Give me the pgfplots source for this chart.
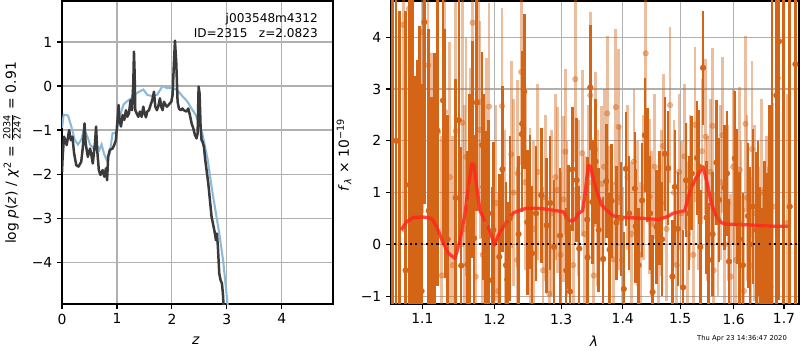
\documentclass[border=0pt]{standalone}
\usepackage{pgfplots}
\pgfplotsset{compat=1.18}
\usepackage{fontspec}
\setmainfont{DejaVu Sans}
\definecolor{gridc}{RGB}{176,176,176}
\definecolor{pzblue}{RGB}{140,185,216}
\definecolor{pzblack}{RGB}{58,58,58}
\definecolor{fdark}{RGB}{212,100,22}
\definecolor{fred}{RGB}{255,40,30}
\begin{document}
\begin{tikzpicture}[x=0.72pt,y=0.72pt]
\useasboundingbox (0,0) rectangle (800,350);
\pgfplotsset{
  common/.style={
    scale only axis, anchor=south west,
    axis line style={black, line width=0.8pt},
    grid=major, grid style={gridc, line width=0.8pt},
    tick align=outside, major tick length=3.5pt,
    tick style={black, line width=0.8pt},
    xtick pos=bottom, ytick pos=left,
    tick label style={font=\fontsize{10}{12}\selectfont},
    minor x tick num=0,
  }
}
% ---------------- left panel: p(z)
\begin{axis}[common,
  at={(44.64pt,33.12pt)}, width=195.12pt, height=218.16pt,
  xmin=0, xmax=4.93, ymin=-4.95, ymax=1.93,
  xtick={0,1,2,3,4}, xticklabels={0,1,2,3,4},
  ytick={-4,-3,-2,-1,0,1}, yticklabels={−4,−3,−2,−1,0,1},
]
\addplot[pzblue, line width=1.5pt] coordinates {
(0.0,-0.95) (0.031,-0.65) (0.11,-0.67) (0.17,-0.92) (0.23,-1.22) (0.29,-1.33) (0.35,-1.22) (0.40,-0.99) (0.46,-1.14) (0.51,-1.33) (0.57,-1.41) (0.63,-1.33) (0.68,-1.45) (0.72,-1.33) (0.77,-1.56) (0.81,-1.67) (0.87,-1.52) (0.92,-1.07) (0.97,-1.07) (1.0,-0.99) (1.06,-0.65) (1.12,-0.42) (1.18,-0.35) (1.27,-0.27) (1.30,-0.23) (1.36,-0.16) (1.42,-0.12) (1.48,-0.08) (1.55,-0.20) (1.64,-0.23) (1.73,-0.20) (1.83,0.0) (1.91,-0.05) (2.0,-0.05) (2.09,-0.08) (2.19,-0.23) (2.28,-0.35) (2.35,-0.5) (2.43,-0.65) (2.49,-0.84) (2.55,-1.07) (2.60,-1.37) (2.65,-1.67) (2.72,-2.28) (2.80,-2.89) (2.86,-3.34) (2.93,-3.95) (2.98,-4.55) (3.01,-4.93) (3.05,-5.3)
};
\addplot[pzblack, line width=1.8pt, line join=round] coordinates {
(0.0,-1.95) (0.012,-1.6) (0.037,-1.15) (0.086,-1.34) (0.13,-1.0) (0.16,-1.23) (0.19,-1.15) (0.22,-1.53) (0.26,-1.80) (0.30,-1.83) (0.35,-1.72) (0.38,-1.38) (0.41,-0.85) (0.43,-1.30) (0.47,-1.61) (0.51,-1.42) (0.53,-1.53) (0.56,-1.76) (0.60,-1.30) (0.62,-0.92) (0.64,-1.45) (0.67,-1.91) (0.70,-2.02) (0.74,-1.91) (0.77,-2.06) (0.80,-1.87) (0.82,-2.14) (0.84,-1.61) (0.87,-1.45) (0.92,-1.42) (0.95,-1.34) (0.98,-1.23) (1.01,-0.77) (1.03,-0.43)
(1.043,-0.77) (1.073,-0.92) (1.103,-0.66) (1.133,-0.77) (1.164,-0.55) (1.188,-0.70) (1.218,-0.62) (1.248,-0.32) (1.273,-0.55) (1.297,0.06) (1.309,0.78) (1.321,0.3) (1.333,-0.55) (1.358,-0.62) (1.388,-0.70) (1.418,-0.58) (1.448,-0.70) (1.479,-0.47) (1.503,-0.62) (1.527,-0.71) (1.552,-0.58) (1.582,-0.55) (1.612,-0.43) (1.642,-0.32) (1.673,-0.13) (1.697,-0.47) (1.727,-0.55) (1.758,-0.43) (1.782,-0.28) (1.806,-0.47) (1.830,-0.55) (1.855,-0.36) (1.885,-0.43) (1.909,-0.47) (1.939,-0.43) (1.964,-0.39) (1.988,-0.36) (2.012,-0.20) (2.036,0.515) (2.055,1.03) (2.079,0.515) (2.103,-0.36) (2.127,-0.51) (2.158,-0.55) (2.194,-0.51)
(2.206,-0.545) (2.267,-0.58) (2.297,-0.51) (2.327,-0.66) (2.358,-0.85) (2.388,-0.96) (2.418,-1.11) (2.448,-1.19) (2.467,-1.08) (2.485,-0.015) (2.503,-0.17) (2.521,-0.92) (2.539,-1.23) (2.558,-1.27) (2.582,-1.38) (2.606,-1.68) (2.630,-1.91) (2.661,-2.21) (2.691,-2.59) (2.721,-2.97) (2.752,-3.16) (2.782,-3.35) (2.8,-3.5) (2.818,-3.35) (2.836,-3.65) (2.861,-4.26) (2.885,-4.41) (2.909,-4.48) (2.927,-4.71) (2.939,-4.98) (2.95,-5.2)
};
\end{axis}
% ---------------- right panel: spectrum
\begin{axis}[common,
  at={(281.52pt,33.12pt)}, width=293.76pt, height=218.16pt,
  xmode=log, xmin=1.0593, xmax=1.731, ymin=-1.15, ymax=4.70,
  xtick={1.1,1.2,1.3,1.4,1.5,1.6,1.7}, xticklabels={1.1,1.2,1.3,1.4,1.5,1.6,1.7},
  minor xtick={},
  ytick={-1,0,1,2,3,4}, yticklabels={−1,0,1,2,3,4},
]
% light series
\addplot[only marks, mark=*, mark size=2.0pt, fdark, opacity=0.42,
  error bars/.cd, y dir=both, y explicit, error mark=none,
  error bar style={line width=2.0pt}]
table[x=l, y=f, y error=e] {
l f e
1.0751 4.24 4.0
1.0825 4.55 4.0
1.1000 4.10 3.5
1.1076 3.46 3.0
1.112 0.9 2.8
1.1210 2.17 2.8
1.126 -0.6 2.7
1.1305 2.56 2.6
1.137 1.3 2.6
1.141 -0.4 2.5
1.1451 2.19 2.5
1.1542 2.35 2.4
1.1594 1.69 2.3
1.157 0.3 2.4
1.165 1.1 2.3
1.1686 4.28 2.3
1.1730 -0.62 2.2
1.1777 2.75 2.1
1.1789 2.21 2.1
1.183 -0.2 2.1
1.188 1.6 2.0
1.1919 2.66 2.0
1.202 0.8 1.9
1.205 -0.9 1.9
1.2107 2.67 1.9
1.215 0.4 1.8
1.2243 1.74 1.8
1.228 1.0 1.8
1.233 -0.3 1.8
1.2337 1.37 1.8
1.2390 3.33 1.8
1.245 1.2 1.7
1.2522 0.55 1.7
1.258 0.3 1.7
1.264 1.4 1.7
1.272 -0.5 1.6
1.276 0.9 1.6
1.2815 -0.95 1.6
1.285 0.6 1.6
1.291 1.3 1.6
1.2945 1.05 1.6
1.299 -0.2 1.6
1.3034 0.87 1.6
1.3066 1.79 1.6
1.309 0.5 1.5
1.319 -0.4 1.5
1.3223 3.19 1.6
1.327 0.9 1.5
1.3334 1.76 1.6
1.337 0.2 1.5
1.344 1.2 1.5
1.3464 2.88 1.6
1.352 -0.6 1.5
1.3545 1.83 1.5
1.358 0.7 1.5
1.3649 1.17 1.5
1.369 1.5 1.5
1.3741 2.53 1.5
1.377 0.4 1.5
1.3847 -0.29 1.5
1.3885 2.65 1.5
1.3930 2.27 1.5
1.395 0.9 1.4
1.399 -0.3 1.4
1.408 1.3 1.4
1.415 0.2 1.4
1.419 1.6 1.4
1.425 0.6 1.4
1.430 -0.2 1.4
1.436 1.1 1.4
1.4392 3.69 1.5
1.4464 0.92 1.5
1.449 0.4 1.4
1.455 1.5 1.4
1.461 -0.1 1.4
1.467 0.8 1.4
1.470 1.9 1.4
1.476 0.3 1.4
1.4820 2.69 1.5
1.489 1.0 1.4
1.494 -0.4 1.4
1.4982 1.40 1.5
1.502 0.6 1.4
1.508 1.7 1.4
1.514 0.2 1.4
1.518 1.1 1.4
1.524 -0.2 1.4
1.5273 2.31 1.5
1.534 0.9 1.4
1.540 1.8 1.4
1.5471 2.08 1.5
1.551 0.7 1.4
1.556 1.4 1.4
1.5597 2.29 1.5
1.562 -0.5 1.5
1.570 0.5 1.5
1.575 1.2 1.5
1.5785 2.11 1.5
1.583 0.0 1.5
1.589 0.8 1.5
1.5943 -0.62 1.6
1.599 1.5 1.5
1.604 -0.3 1.6
1.6116 1.44 1.6
1.614 0.4 1.6
1.620 -0.9 1.6
1.6228 2.33 1.7
1.626 0.9 1.6
1.633 -0.4 1.7
1.6357 1.84 1.7
1.641 0.6 1.7
1.648 -0.2 1.7
1.654 1.0 1.8
1.658 -0.7 1.8
1.664 0.3 1.8
1.669 -0.4 1.9
1.6776 0.73 2.0
1.6876 3.21 2.5
1.7060 0.41 2.5
};
% dark series
\addplot[only marks, mark=*, mark size=2.0pt, fdark,
  error bars/.cd, y dir=both, y explicit, error mark=none,
  error bar style={line width=1.8pt}]
table[x=l, y=f, y error=e] {
l f e
1.0610 -2.0 8.0
1.0660 2.0 6.0
1.0700 -1.5 6.0
1.0780 -0.5 5.0
1.0829 1.15 4.5
1.0870 0.8 4.5
1.0904 -0.74 4.0
1.0934 -0.93 4.5
1.0961 0.22 4.0
1.0990 -0.9 4.0
1.1027 4.29 3.5
1.1085 0.65 3.5
1.1125 -0.16 3.0
1.1160 0.7 3.0
1.1200 2.2 3.0
1.1277 2.78 2.8
1.1305 1.76 2.4
1.1340 0.1 2.4
1.1450 0.9 2.3
1.1493 2.40 2.4
1.1527 -0.41 2.3
1.1612 -0.39 2.2
1.1640 0.8 2.1
1.1682 1.83 2.1
1.1706 0.12 2.0
1.1744 2.74 2.1
1.1819 1.92 1.8
1.1838 1.11 1.8
1.1866 0.39 1.8
1.1910 0.6 1.8
1.1962 -0.69 1.8
1.1981 0.28 1.7
1.2068 -0.24 1.6
1.2112 1.45 1.6
1.2165 -0.40 1.6
1.2184 -0.68 1.5
1.2220 0.5 1.6
1.2350 0.2 1.5
1.2399 2.13 1.5
1.2404 2.33 1.4
1.2436 2.95 1.5
1.2481 0.43 1.4
1.2522 0.82 1.3
1.2552 -0.17 1.3
1.2612 0.60 1.3
1.2693 0.95 1.3
1.2776 0.37 1.3
1.2830 0.8 1.3
1.2888 -0.05 1.3
1.2982 0.17 1.3
1.3080 -0.5 1.2
1.3119 0.34 1.2
1.3139 -0.91 1.2
1.3176 1.45 1.2
1.3245 1.24 1.2
1.3286 -0.08 1.2
1.3415 0.48 1.2
1.3420 -0.25 1.2
1.3464 3.03 1.2
1.3496 0.82 1.2
1.3550 1.6 1.2
1.3600 0.28 1.2
1.3675 -0.28 1.2
1.3725 1.22 1.1
1.3780 -0.1 1.1
1.3814 0.84 1.1
1.3894 0.42 1.1
1.3970 0.5 1.1
1.4019 -0.86 1.1
1.4053 1.46 1.1
1.4109 0.60 1.1
1.4206 1.08 1.1
1.4220 0.35 1.1
1.4269 -0.40 1.1
1.4331 0.85 1.1
1.4378 2.11 1.1
1.4424 1.53 1.1
1.4470 0.6 1.1
1.4511 -0.92 1.1
1.4580 0.34 1.1
1.4637 0.70 1.1
1.4680 0.1 1.1
1.4727 1.75 1.1
1.4785 1.47 1.1
1.4863 -0.62 1.1
1.4905 1.11 1.1
1.4960 0.3 1.1
1.5055 -0.83 1.1
1.5109 1.24 1.1
1.5160 0.6 1.1
1.5212 1.37 1.1
1.5310 1.67 1.1
1.5350 1.5 1.1
1.5372 -0.05 1.1
1.5420 3.41 1.1
1.5486 0.52 1.1
1.5527 -0.30 1.1
1.5600 0.2 1.2
1.5672 1.58 1.2
1.5721 0.86 1.2
1.5820 1.1 1.2
1.5872 1.37 1.2
1.5910 -0.33 1.2
1.6020 1.66 1.3
1.6065 0.92 1.3
1.6110 0.1 1.3
1.6181 -0.40 1.4
1.6278 0.55 1.4
1.6320 0.0 1.5
1.6376 0.73 1.5
1.6444 0.28 1.5
1.6470 0.5 1.5
1.6510 -0.40 1.5
1.6560 -0.9 1.6
1.6609 0.02 1.6
1.6662 -0.23 1.6
1.6700 1.0 1.7
1.6724 -0.82 1.8
1.6760 -2.0 8.0
1.6843 2.88 5.0
1.6897 3.92 5.0
1.6990 -2.0 8.0
1.7116 0.73 5.0
1.7233 3.48 5.0
};
\addplot[black, line width=1.5pt, dash pattern=on 1.5pt off 2.3pt] coordinates {(1.05,0) (1.75,0)};
\addplot[fred, opacity=0.85, line width=2.4pt, line join=round] coordinates {
(1.0722,0.28) (1.0795,0.44) (1.0882,0.52) (1.1013,0.53) (1.1125,0.50) (1.1192,0.34) (1.1282,0.02) (1.1350,-0.17) (1.1441,-0.27) (1.1511,0.08) (1.1580,0.60) (1.1626,1.11) (1.1674,1.56) (1.1706,1.53) (1.1744,1.11) (1.1789,0.66) (1.1862,0.44) (1.1923,0.28) (1.1958,0.15) (1.1996,-0.01) (1.2053,0.18) (1.2126,0.34) (1.2199,0.47) (1.2273,0.61) (1.2373,0.66) (1.2472,0.70) (1.2624,0.70) (1.2776,0.68) (1.2931,0.65) (1.3034,0.63) (1.3097,0.50) (1.3150,0.45) (1.3219,0.48) (1.3271,0.60) (1.3341,0.65) (1.3379,0.99) (1.3432,1.53) (1.3470,1.50) (1.3513,1.27) (1.3569,1.02) (1.3649,0.76) (1.3733,0.66) (1.3842,0.55) (1.4009,0.52) (1.4237,0.51) (1.4407,0.50) (1.4608,0.48) (1.4757,0.53) (1.4874,0.60) (1.4995,0.63) (1.5085,0.65) (1.5176,1.02) (1.5268,1.24) (1.5360,1.40) (1.5420,1.50) (1.5484,1.24) (1.5578,0.79) (1.5672,0.53) (1.5766,0.42) (1.5862,0.39) (1.6247,0.38) (1.6575,0.36) (1.6843,0.35) (1.7086,0.35)
};
\end{axis}
% labels and annotations
\node[rotate=90, font=\fontsize{10}{12}\selectfont] at (12,197) {log \textit{p}(\textit{z}) / \textit{χ}\textsuperscript{2} = $\frac{\mbox{\fontsize{7}{8}\selectfont 2034}}{\mbox{\fontsize{7}{8}\selectfont 2247}}$ = 0.91};
\node[font=\fontsize{10}{12}\selectfont] at (196,9) {\textit{z}};
\node[rotate=90, font=\fontsize{10}{12}\selectfont] at (344,195) {\textit{f}\textsubscript{\textit{λ}} × 10\textsuperscript{−19}};
\node[font=\fontsize{10}{12}\selectfont] at (594,9) {\textit{λ}};
\node[anchor=base east, font=\fontsize{8.7}{10}\selectfont, inner sep=0pt] at (318,327) {j003548m4312};
\node[anchor=base east, font=\fontsize{8.7}{10}\selectfont, inner sep=0pt] at (318,312) {ID=2315\hspace{0.95em}z=2.0823};
\node[font=\fontsize{4.9}{5.5}\selectfont] at (742,11) {Thu Apr 23 14:36:47 2020};
\end{tikzpicture}
\end{document}
